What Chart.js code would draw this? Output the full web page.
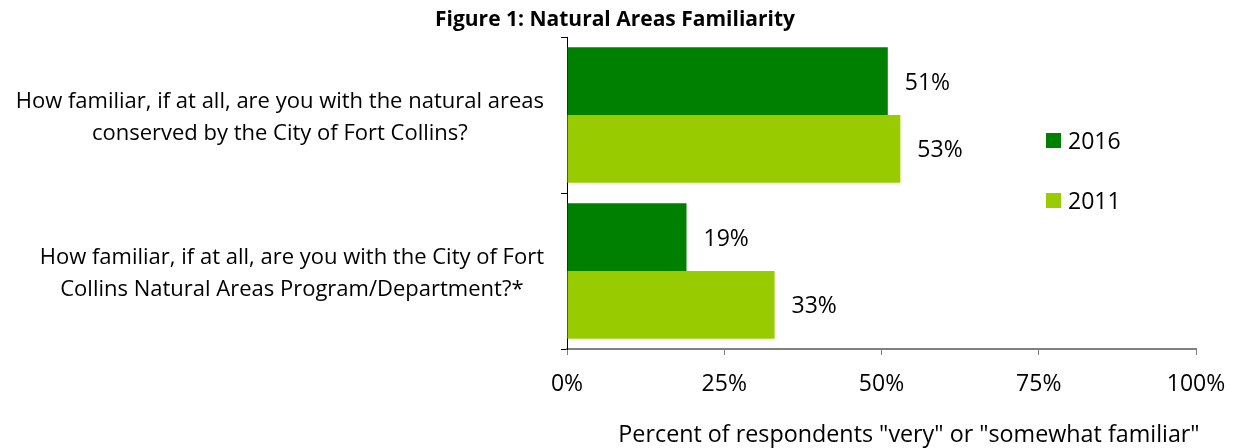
<!DOCTYPE html>
<html>
<head>
<meta charset="utf-8">
<script src="https://cdn.jsdelivr.net/npm/chart.js@4.4.1/dist/chart.umd.min.js"></script>
<style>
  html, body { margin: 0; padding: 0; background: #fff; }
  #wrap { width: 1236px; height: 448px; }
</style>
</head>
<body>
<div id="wrap"><canvas id="chart"></canvas></div>
<script>
// Figure 1: natural areas familiarity, 2016 vs 2011.

const CATEGORIES = [
  ["How familiar, if at all, are you with the natural areas", "conserved by the City of Fort Collins?"],
  ["How familiar, if at all, are you with the City of Fort", "Collins Natural Areas Program/Department?*"],
];
const SERIES_NAMES = ["2016", "2011"];
const VALUES_2016 = [51, 19];
const VALUES_2011 = [53, 33];
const X_TICKS = [0, 25, 50, 75, 100];
const TITLE = "Figure 1: Natural Areas Familiarity";
const X_TITLE = 'Percent of respondents "very" or "somewhat familiar"';

const DARK_GREEN = "#008000";
const LIGHT_GREEN = "#99cc00";
const FONT = '"Open Sans", Lato, sans-serif';
const FS_TITLE = 21;   // bold heading
const FS_LABEL = 22;   // question labels
const FS_NUM = 23;     // ticks, values, legend, axis title

Chart.defaults.font.family = FONT;
Chart.defaults.color = "#000";

// Title, axis title, legend, value labels and the two-line question labels.
const annotate = {
  id: "annotate",
  afterDraw(chart) {
    const ctx = chart.ctx;
    const xs = chart.scales.x, ys = chart.scales.y;
    ctx.save();
    ctx.fillStyle = "#000";
    ctx.textBaseline = "middle";

    ctx.font = `bold ${FS_TITLE}px ${FONT}`;
    ctx.textAlign = "center";
    ctx.fillText(TITLE, 615, 20);

    ctx.font = `23.3px ${FONT}`;
    ctx.fillText(X_TITLE, 909, 435);

    // question labels: each block centred on itself, right edge near the axis
    ctx.font = `${FS_LABEL}px ${FONT}`;
    CATEGORIES.forEach((lines, i) => {
      const w = Math.max(...lines.map(l => ctx.measureText(l).width));
      const cx = 544 - w / 2;
      const cy = ys.getPixelForValue(i) + 3;
      lines.forEach((l, k) => ctx.fillText(l, cx, cy + (k - (lines.length - 1) / 2) * 32));
    });

    // value labels
    ctx.font = `${FS_NUM}px ${FONT}`;
    ctx.textAlign = "left";
    chart.data.datasets.forEach((ds, d) => {
      chart.getDatasetMeta(d).data.forEach((bar, i) => {
        ctx.fillText(ds.data[i] + "%", xs.getPixelForValue(ds.data[i]) + 17, bar.y + 2);
      });
    });

    // legend
    chart.data.datasets.forEach((ds, d) => {
      const y = 141 + d * 60;
      ctx.fillStyle = ds.backgroundColor;
      ctx.fillRect(1046, y - 8, 15, 15);
      ctx.fillStyle = "#000";
      ctx.fillText(ds.label, 1068, y + 1);
    });
    ctx.restore();
  },
};

new Chart(document.getElementById("chart"), {
  type: "bar",
  data: {
    labels: CATEGORIES,
    datasets: [
      { label: SERIES_NAMES[0], data: VALUES_2016, backgroundColor: DARK_GREEN,
        barPercentage: 1, categoryPercentage: 0.868 },
      { label: SERIES_NAMES[1], data: VALUES_2011, backgroundColor: LIGHT_GREEN,
        barPercentage: 1, categoryPercentage: 0.868 },
    ],
  },
  options: {
    indexAxis: "y",
    responsive: true, maintainAspectRatio: false,
    animation: false,
    layout: { padding: { top: 37, right: 40, bottom: 0, left: 0 } },
    plugins: { legend: { display: false }, tooltip: { enabled: false } },
    scales: {
      x: {
        type: "linear", min: X_TICKS[0], max: X_TICKS[X_TICKS.length - 1],
        afterBuildTicks: s => { s.ticks = X_TICKS.map(v => ({ value: v })); },
        afterFit: s => { s.height = 99; s.paddingLeft = 0; s.paddingRight = 0; },
        ticks: { callback: v => v + "%", font: { size: FS_NUM }, color: "#000", padding: 16, maxRotation: 0 },
        grid: { drawOnChartArea: false, drawTicks: true, tickLength: 6, color: "#808080", lineWidth: 1 },
        border: { color: "#808080", width: 2 },
      },
      y: {
        type: "category", offset: true,
        afterFit: s => { s.width = 567; },
        ticks: { display: false },
        grid: { offset: true, drawOnChartArea: false, drawTicks: true, tickLength: 6, color: "#000", lineWidth: 1 },
        border: { color: "#000", width: 1 },
      },
    },
  },
  plugins: [annotate],
});
</script>
</body>
</html>
